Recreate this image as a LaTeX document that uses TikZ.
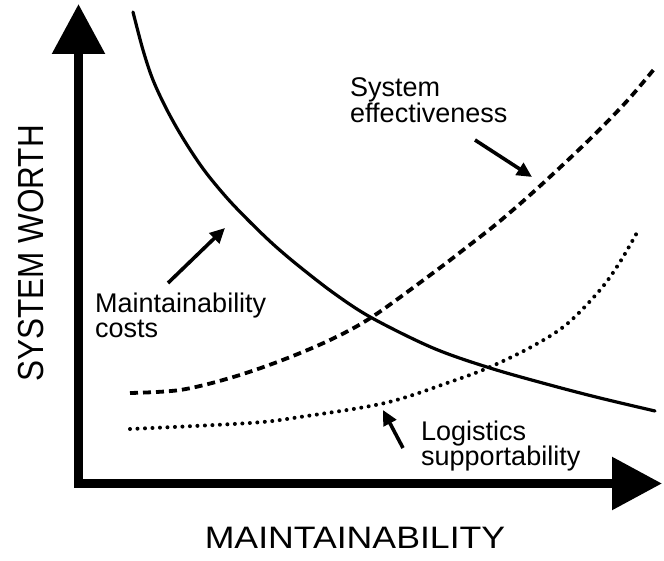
\documentclass[tikz,border=0pt]{standalone}
\usepackage{fontspec}
\setmainfont{Liberation Sans}
\usetikzlibrary{arrows.meta}
\begin{document}
\begin{tikzpicture}[x=1pt,y=-1pt,
  axis/.style={line width=9pt,line join=miter,
    {Triangle[length=50pt,width=51pt]}-{Triangle[length=50pt,width=51pt]}},
  costcurve/.style={line width=3.2pt,line cap=round},
  effcurve/.style={line width=3.8pt,dash pattern=on 8pt off 5pt},
  logcurve/.style={line width=4pt,line cap=round,dash pattern=on 0pt off 7.5pt},
  pointer/.style={line width=3.6pt,-{Triangle[length=15pt,width=14pt]}},
  lbl/.style={font=\fontsize{27}{25.5}\selectfont,align=left,inner sep=0pt,anchor=north west},
  axlbl/.style={inner sep=0pt}]
\useasboundingbox (0,0) rectangle (664,561);
% axes
\draw[axis] (78.5,4) -- (78.5,483.5) -- (662,483.5);
% axis labels
\node[axlbl,anchor=base] (xlab) at (355,548.5)
  {\scalebox{1.15}[1]{\fontsize{31}{31}\selectfont MAINTAINABILITY}};
\node[axlbl,anchor=base,rotate=90] (ylab) at (43,253.5)
  {\scalebox{1}[1.15]{\fontsize{31.5}{31.5}\selectfont SYSTEM WORTH}};
% curves
\draw[costcurve] plot[smooth,tension=0.55] coordinates {(133,12) (143,50) (153,80) (167,110) (184,140)
  (204,170) (227,198) (250,222) (274,245) (300,267) (335,294) (372,318) (433,348) (490,368)
  (550,385) (600,398) (655,411)};
\draw[effcurve] plot[smooth,tension=0.55] coordinates {(130,393) (180,390) (230,378) (280,361) (330,340)
  (372,317) (433,273) (467,247) (500,221) (540,186) (590,139) (627,101) (655,68)};
\draw[logcurve] plot[smooth,tension=0.55] coordinates {(130,429) (250,423) (300,417) (385,403) (450,382)
  (490,367) (533,346) (567,324) (600,290) (620,262) (639,229)};
% labels
\node[lbl] (eff) at (350,77.5) {System\\effectiveness};
\node[lbl] (cost) at (95,292.3) {Maintainability\\costs};
\node[lbl] (log) at (421,420.5) {Logistics\\supportability};
% pointers
\coordinate (effS) at (475,140);
\coordinate (effE) at (532,177);
\coordinate (costS) at (168,283);
\coordinate (costE) at (225,228);
\coordinate (logS) at (403,448);
\coordinate (logE) at (383,410);
\draw[pointer] (effS) -- (effE);
\draw[pointer] (costS) -- (costE);
\draw[pointer] (logS) -- (logE);
\end{tikzpicture}
\end{document}
